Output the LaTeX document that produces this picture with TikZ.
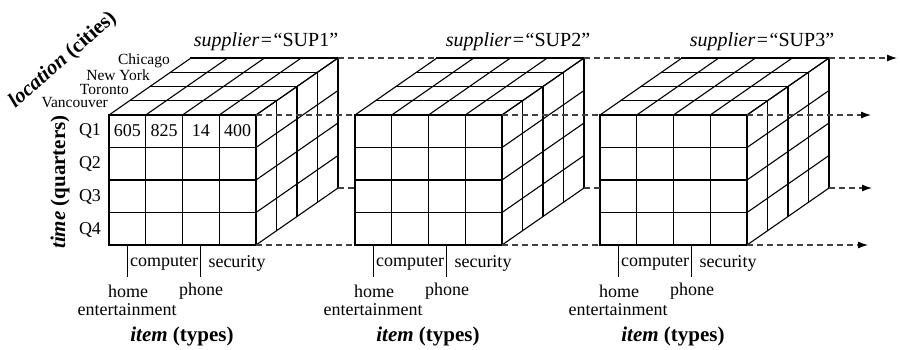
\documentclass[tikz,border=0pt]{standalone}
\usepackage{fontspec}
\setmainfont{Liberation Serif}
\usetikzlibrary{arrows.meta}
\tikzset{
  cubeline/.style={line width=1.1pt, line cap=rect},
  dashconn/.style={line width=1.1pt, draw=black!75, dash pattern=on 6pt off 4pt},
  arrowconn/.style={dashconn, -{Latex[length=10pt,width=7pt,black]}},
  lbl/.style={inner sep=0pt, font=\fontsize{18}{20}\selectfont},
  suplbl/.style={inner sep=0pt, font=\fontsize{20}{22}\selectfont},
  citylbl/.style={inner sep=0pt, anchor=east, font=\fontsize{15.5}{17}\selectfont},
  biglbl/.style={inner sep=0pt, font=\fontsize{21}{23}\selectfont\bfseries},
  tickline/.style={line width=1.1pt}
}
\newcommand{\mkcube}[2]{%
\begin{scope}[shift={(#1,0)}]
  \foreach \i in {0,...,4} {\draw[cubeline] (109+\i*36.75,115) -- (109+\i*36.75,245);}
  \foreach \j in {0,...,4} {\draw[cubeline] (109,115+\j*32.5) -- (256,115+\j*32.5);}
  \foreach \i in {0,...,4} {\draw[cubeline] (109+\i*36.75,115) -- ++(82,-57);}
  \foreach \k in {1,...,4} {\draw[cubeline] (109+\k*20.5,115-\k*14.25) -- ++(147,0);}
  \foreach \j in {0,...,4} {\draw[cubeline] (256,115+\j*32.5) -- ++(82,-57);}
  \foreach \k in {1,...,4} {\draw[cubeline] (256+\k*20.5,115-\k*14.25) -- ++(0,130);}
  \coordinate (#2-ftl) at (109,115);
  \coordinate (#2-ftr) at (256,115);
  \coordinate (#2-fbl) at (109,245);
  \coordinate (#2-fbr) at (256,245);
  \coordinate (#2-fml) at (109,188);
  \coordinate (#2-btl) at (191,58);
  \coordinate (#2-btr) at (338,58);
  \coordinate (#2-bbr) at (338,188);
  \coordinate (#2-t1) at (127.5,277);
  \coordinate (#2-t3) at (200.5,277);
  \draw[tickline] (127.5,245) -- (#2-t1);
  \draw[tickline] (200.5,245) -- (#2-t3);
  \node[lbl] (#2-comp) at (164,263) {computer};
  \node[lbl] (#2-sec) at (237,263) {security};
  \node[lbl] (#2-home) at (128,291) {home};
  \node[lbl] (#2-ent) at (127,310) {entertainment};
  \node[lbl] (#2-phone) at (201,291) {phone};
  \node[biglbl] (#2-item) at (182,336) {\textit{item} (types)};
\end{scope}}
\begin{document}
\begin{tikzpicture}[x=1pt,y=-1pt]
\useasboundingbox (0,0) rectangle (900,349);
\mkcube{0}{ca}
\mkcube{246}{cb}
\mkcube{491}{cc}
% supplier labels
\node[suplbl] (sa) at (266,42) {\textit{supplier}\kern1.5pt=\kern1.5pt“SUP1”};
\node[suplbl] (sb) at (518,42) {\textit{supplier}\kern1.5pt=\kern1.5pt“SUP2”};
\node[suplbl] (sc) at (762,42) {\textit{supplier}\kern1.5pt=\kern1.5pt“SUP3”};
% cities
\node[citylbl] (van) at (108,103) {Vancouver};
\node[citylbl] (tor) at (129,89) {Toronto};
\node[citylbl] (ny) at (150,75) {New York};
\node[citylbl] (chi) at (170,61) {Chicago};
\node[biglbl, rotate=41] (loc) at (63,60) {\textit{location} (cities)};
\node[biglbl, rotate=90] (time) at (60,182) {\textit{time} (quarters)};
% quarters
\node[lbl] (q1) at (90,131) {Q1};
\node[lbl] (q2) at (90,164) {Q2};
\node[lbl] (q3) at (90,197) {Q3};
\node[lbl] (q4) at (90,230) {Q4};
% values
\node[lbl] (v1) at (127.4,131) {605};
\node[lbl] (v2) at (164.1,131) {825};
\node[lbl] (v3) at (200.9,131) {14};
\node[lbl] (v4) at (237.6,131) {400};
% arrow ends
\coordinate (e1) at (897,58);
\coordinate (e2) at (871,115);
\coordinate (e3) at (872,188);
\coordinate (e4) at (868,245);
% dashed connectors
\draw[dashconn] (ca-btr) -- (cb-btl);
\draw[dashconn] (cb-btr) -- (cc-btl);
\draw[arrowconn] (cc-btr) -- (e1);
\draw[dashconn] (ca-ftr) -- (cb-ftl);
\draw[dashconn] (cb-ftr) -- (cc-ftl);
\draw[arrowconn] (cc-ftr) -- (e2);
\draw[dashconn] (ca-bbr) -- (cb-fml);
\draw[dashconn] (cb-bbr) -- (cc-fml);
\draw[arrowconn] (cc-bbr) -- (e3);
\draw[dashconn] (ca-fbr) -- (cb-fbl);
\draw[dashconn] (cb-fbr) -- (cc-fbl);
\draw[arrowconn] (cc-fbr) -- (e4);
\end{tikzpicture}
\end{document}
